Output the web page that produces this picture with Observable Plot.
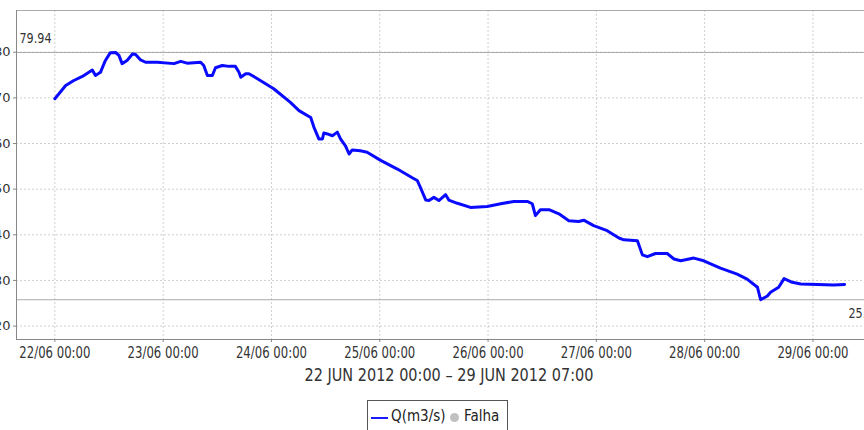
<!DOCTYPE html>
<html><head><meta charset="utf-8">
<script src="https://cdn.jsdelivr.net/npm/d3@7"></script>
<script src="https://cdn.jsdelivr.net/npm/@observablehq/plot@0.6"></script>
<style>
html,body{margin:0;padding:0;background:#fff;}
#wrap{position:relative;width:864px;height:430px;overflow:hidden;font-family:"DejaVu Sans",sans-serif;background:#fff;}
#chart{position:absolute;left:-24px;top:0;width:914px;}
#chart svg{max-width:none;}
#range{position:absolute;left:0;width:898px;top:365px;text-align:center;font-size:17px;color:#333;white-space:nowrap;transform:scaleX(0.85);transform-origin:449px 0;}
#legend{position:absolute;left:367px;top:400px;width:141px;height:40px;border:1px solid #555;box-sizing:border-box;display:flex;align-items:flex-start;padding:6px 0 0 3px;font-size:15px;color:#222;white-space:nowrap;}
#legend .txt{display:inline-block;transform:scaleX(0.9);transform-origin:0 0;}
#legend .ln{display:inline-block;width:17px;height:2px;background:#1a1aff;margin:10px 3px 0 0;}
#legend .dot{display:inline-block;width:9px;height:9px;border-radius:50%;background:#c0c0c0;margin:6px 5px 0 3px;}
</style>
</head><body>
<div id="wrap">
  <div id="chart"></div>
  <div id="range"></div>
  <div id="legend"><span class="ln"></span><span class="txt" id="lg1" style="width:56px"></span><span class="dot"></span><span class="txt" id="lg2"></span></div>
</div>
<script>
// Data: hours after 22/06/2012 00:00 and discharge Q (m3/s)
const hours = [0,2.4,4.2,6.1,8.3,9.0,10.1,11.2,12.3,13.45,14.2,14.9,16.0,17.2,17.9,19.0,20.1,22.7,26.4,27.9,29.3,32.3,33.0,33.8,34.9,35.6,37.1,38.6,40.0,40.8,41.2,42.3,43.0,44.9,48.5,52.2,54.1,56.7,57.4,58.5,59.3,59.6,60.4,61.5,62.6,63.3,64.4,65.2,65.9,67.7,69.2,72.2,75.9,79.2,80.3,81.0,82.2,82.9,84.0,85.1,86.6,87.3,89.2,92.1,95.8,98.8,101.7,104.7,105.8,106.5,107.6,109.5,111.7,113.9,116.1,117.2,119.4,122.4,125.0,126.1,129.1,130.2,131.3,133.1,135.7,137.2,138.7,141.6,143.8,147.5,151.2,153.4,155.7,156.4,157.9,158.6,160.4,161.6,163.4,165.3,169.0,172.6,175.0];
const flow = [69.8,72.7,73.8,74.7,76.1,74.9,75.6,78.2,79.9,79.94,79.3,77.5,78.2,79.6,79.5,78.3,77.8,77.8,77.5,78.0,77.6,77.8,77.1,74.9,74.9,76.6,77.1,76.9,76.9,75.6,74.5,75.3,75.3,74.2,72.0,69.0,67.2,65.7,63.6,61.0,61.0,62.3,62.1,61.7,62.5,61.0,59.5,57.7,58.6,58.4,58.1,56.3,54.4,52.5,51.9,50.4,47.6,47.5,48.2,47.5,48.8,47.6,46.9,46.0,46.2,46.8,47.3,47.3,46.8,44.2,45.5,45.5,44.6,43.1,42.9,43.2,42.0,40.9,39.3,38.9,38.7,35.6,35.2,35.9,35.9,34.7,34.3,34.9,34.3,32.7,31.4,30.3,28.5,25.77,26.6,27.4,28.5,30.4,29.6,29.2,29.1,29.0,29.1];
const yTicks = [20,30,40,50,60,70,80];
const markerValues = [79.94, 25.77];
const markerLabels = ["79.94", "25.77"];
const rangeLabel = "22 JUN 2012 00:00 \u2013 29 JUN 2012 07:00";
const legendLabels = ["Q(m3/s)", "Falha"];

const base = Date.UTC(2012,5,22,0,0);
const data = hours.map((h,i)=>({t:new Date(base + h*3600e3), q:flow[i]}));
const x0 = new Date(Date.UTC(2012,5,21,15,30));
const x1 = new Date(Date.UTC(2012,5,29,17,11));
const y0 = 17.06, y1 = 89.14;
const days = d3.utcDay.range(new Date(base), x1);

const grid = {stroke:"#cfcfcf", strokeOpacity:1, strokeDasharray:"2,2"};
const chart = Plot.plot({
  width: 914, height: 370,
  marginLeft: 40, marginRight: 0, marginTop: 10, marginBottom: 31,
  style:{fontFamily:"DejaVu Sans, sans-serif", fontSize:"12px", color:"#333", background:"transparent", overflow:"visible"},
  x:{type:"utc", domain:[x0,x1]},
  y:{domain:[y0,y1]},
  marks:[
    Plot.gridX(days, grid),
    Plot.gridY(yTicks, grid),
    Plot.ruleY([y1], {stroke:"#aaa"}),
    Plot.ruleY(markerValues, {stroke:"#aaa"}),
    Plot.line(data, {x:"t", y:"q", stroke:"#0a0aff", strokeWidth:3, strokeLinejoin:"round"}),
    Plot.text([markerValues[0]], {x:()=>x0, y:d=>d, text:()=>markerLabels[0], textAnchor:"start", dx:3, dy:-14, fontSize:14, fill:"#333", className:"sq"}),
    Plot.text([markerValues[1]], {x:()=>x1, y:d=>d, text:()=>markerLabels[1], textAnchor:"start", dx:-42, dy:14, fontSize:14, fill:"#333", className:"sq"}),
    Plot.axisY(yTicks, {tickSize:3, tickPadding:3, tickFormat:d=>String(d), label:null, stroke:"#888", fontSize:13, className:"yax"}),
    Plot.axisX(days, {tickSize:3, tickPadding:5, tickFormat:d3.utcFormat("%d/%m %H:%M"), label:null, stroke:"#888", fontSize:15, className:"sqx"}),
    Plot.ruleX([x0], {stroke:"#888"}),
    Plot.ruleY([y0], {stroke:"#888"})
  ]
});
// horizontally condense labels to match the narrow lettering of the reference
function squeeze(sel, s){
  chart.querySelectorAll(sel).forEach(t=>{
    const bb = t.getBBox();
    const cx = t.getAttribute("text-anchor")==="end" ? bb.x+bb.width : (t.getAttribute("text-anchor")==="start" ? bb.x : bb.x+bb.width/2);
    const tr = t.getAttribute("transform")||"";
    t.setAttribute("transform", `translate(${cx},0) scale(${s},1) translate(${-cx},0) ${tr}`);
  });
}
document.getElementById("chart").append(chart);
document.getElementById("range").textContent = rangeLabel;
document.getElementById("lg1").textContent = legendLabels[0];
document.getElementById("lg2").textContent = legendLabels[1];
chart.querySelectorAll(".sqx text").forEach(t=>{
  const tr = t.getAttribute("transform")||"";
  t.setAttribute("transform", tr + " scale(0.78,1)");
});
chart.querySelectorAll(".sq text").forEach(t=>{
  const tr = t.getAttribute("transform")||"";
  t.setAttribute("transform", tr + " scale(0.8,1)");
});
</script>
</body></html>
